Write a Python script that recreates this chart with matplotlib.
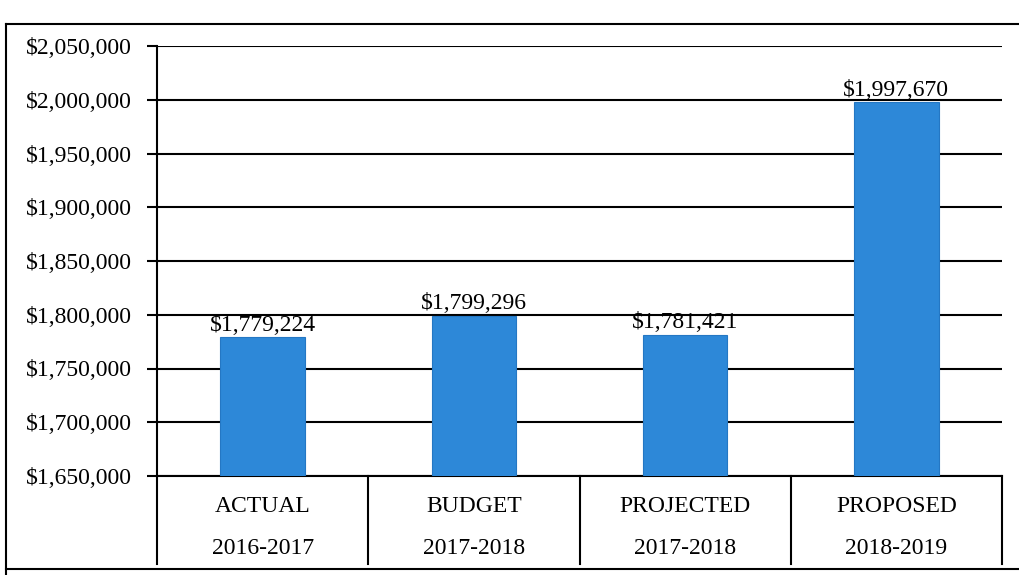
import matplotlib

matplotlib.use("Agg")
import matplotlib.pyplot as plt
from matplotlib.lines import Line2D
from matplotlib.ticker import FuncFormatter
import matplotlib.transforms as mtransforms

# Budget figures by period
categories = ["ACTUAL", "BUDGET", "PROJECTED", "PROPOSED"]
periods = ["2016-2017", "2017-2018", "2017-2018", "2018-2019"]
amounts = [1779224, 1799296, 1781421, 1997670]
y_ticks = [1650000, 1700000, 1750000, 1800000, 1850000, 1900000,
           1950000, 2000000, 2050000]

BAR_COLOR = "#2d88d8"
SERIF = "Liberation Serif"
FS = 17

plt.rcParams["font.family"] = [SERIF, "DejaVu Serif"]

W, H = 1019, 575
fig = plt.figure(figsize=(W / 100, H / 100), dpi=100)
fig.patch.set_facecolor("white")

left, right, top, bottom = 157, 1002, 46, 476
ax = fig.add_axes([left / W, 1 - bottom / H, (right - left) / W,
                   (bottom - top) / H])

x = list(range(len(categories)))
ax.bar(x, amounts, width=0.4, color=BAR_COLOR, edgecolor="#2477c4",
       linewidth=0.8, zorder=3)

ax.set_xlim(-0.5, len(categories) - 0.5)
ax.set_ylim(y_ticks[0], y_ticks[-1])
ax.set_yticks(y_ticks)
ax.yaxis.set_major_formatter(FuncFormatter(lambda v, _: f"${v:,.0f}"))
ax.tick_params(axis="y", length=7, width=1.5, pad=11, labelsize=FS,
               colors="black", direction="out")
ax.set_xticks([])
ax.grid(axis="y", color="black", linewidth=1.5, zorder=1)
ax.set_axisbelow(True)

for side in ["top", "right"]:
    ax.spines[side].set_visible(False)
ax.spines["left"].set_linewidth(1.5)
ax.spines["bottom"].set_linewidth(1.5)

# value labels above each bar
for xi, v in zip(x, amounts):
    ax.annotate(f"${v:,}", (xi, v), xytext=(0, 1), textcoords="offset points",
                ha="center", va="bottom", fontsize=FS, zorder=4)

# category table under the plot
trans = mtransforms.blended_transform_factory(ax.transData, ax.transAxes)
table_depth = -0.205
for xb in [-0.5, 0.5, 1.5, 2.5, 3.5]:
    ax.plot([xb, xb], [0, table_depth], transform=trans, color="black",
            linewidth=1.5, clip_on=False)
for xi, cat, per in zip(x, categories, periods):
    ax.text(xi, -0.072, cat, transform=trans, ha="center", va="center",
            fontsize=FS)
    ax.text(xi, -0.168, per, transform=trans, ha="center", va="center",
            fontsize=FS)

# page frame around the chart
fig.add_artist(Line2D([6 / W, 6 / W], [1 - 24 / H, 0], color="black",
                      linewidth=1.5))
fig.add_artist(Line2D([6 / W, 1], [1 - 24 / H, 1 - 24 / H], color="black",
                      linewidth=1.5))
fig.add_artist(Line2D([6 / W, 1], [1 - 569 / H, 1 - 569 / H], color="black",
                      linewidth=1.5))

fig.savefig("out.png", dpi=100, facecolor="white")
